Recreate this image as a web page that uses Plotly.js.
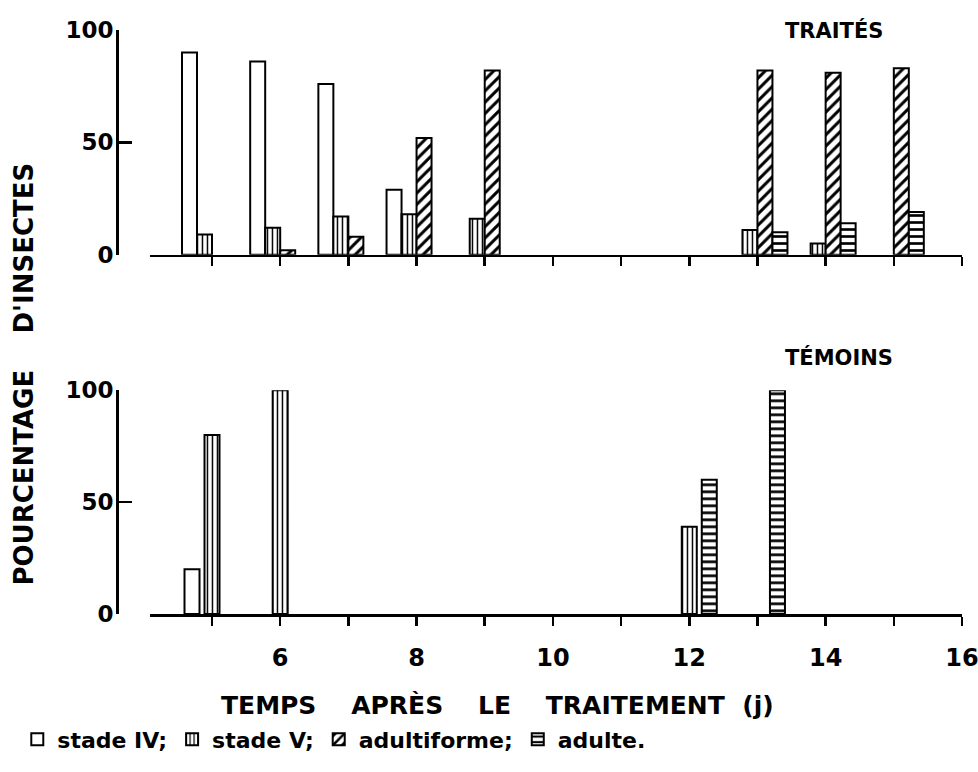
<!DOCTYPE html>
<html><head><meta charset="utf-8">
<script src="https://cdn.plot.ly/plotly-3.0.1.min.js"></script>
<style>html,body{margin:0;padding:0;background:#fff}</style>
</head><body><div id="chart" style="width:978px;height:772px"></div>
<script>
// ---- data ----
const seriesNames = ["stade IV;", "stade V;", "adultiforme;", "adulte."];

const traitesDays = [5, 6, 7, 8, 9, 13, 14, 15];
const traitesStadeIV = [90, 86, 76, 29, 0, 0, 0, 0];
const traitesStadeV = [9, 12, 17, 18, 16, 11, 5, 0];
const traitesAdultiforme = [0, 2, 8, 52, 82, 82, 81, 83];
const traitesAdulte = [0, 0, 0, 0, 0, 10, 14, 19];

const temoinsDays = [5, 6, 12, 13];
const temoinsStadeIV = [20, 0, 0, 0];
const temoinsStadeV = [80, 100, 39, 0];
const temoinsAdulte = [0, 0, 60, 100];

const tickDays = [5, 6, 7, 8, 9, 10, 11, 12, 13, 14, 15, 16];
const tickDayLabels = ["", "6", "", "8", "", "10", "", "12", "", "14", "", "16"];
const yTickVals = [0, 50, 100];
const yTickLabels = ["0", "50", "100"];

// ---- styles ----
const FONT = "DejaVu Sans";
const patterns = [
  {shape: "", fgcolor: "#000", bgcolor: "#fff"},
  {shape: "|", size: 5, solidity: 0.3, fgcolor: "#000", bgcolor: "#fff"},
  {shape: "/", size: 8, solidity: 0.38, fgcolor: "#000", bgcolor: "#fff"},
  {shape: "-", size: 7, solidity: 0.38, fgcolor: "#000", bgcolor: "#fff"}
];
// a 0 % value is simply not drawn (no empty box on the baseline)
const hideZero = arr => arr.map(v => (v === 0 ? null : v));
function bar(x, y, idx, xa, ya, showleg) {
  return {
    type: "bar", x: x, y: hideZero(y), name: seriesNames[idx],
    xaxis: xa, yaxis: ya, showlegend: showleg, legendgroup: "g" + idx,
    marker: {color: "#fff", line: {color: "#000", width: 2}, pattern: patterns[idx]},
    hoverinfo: "x+y"
  };
}
const BW = 0.22;
const data = [
  bar(traitesDays, traitesStadeIV, 0, "x2", "y2", true),
  bar(traitesDays, traitesStadeV, 1, "x2", "y2", true),
  bar(traitesDays, traitesAdultiforme, 2, "x2", "y2", true),
  bar(traitesDays, traitesAdulte, 3, "x2", "y2", true),
  Object.assign(bar(temoinsDays, temoinsStadeIV, 0, "x", "y", false), {width: BW}),
  Object.assign(bar(temoinsDays, temoinsStadeV, 1, "x", "y", false), {width: BW}),
  Object.assign(bar(temoinsDays, temoinsAdulte, 3, "x", "y", false), {width: BW})
];

const xBase = {
  domain: [0.039, 1], range: [4.09, 16], tickmode: "array", tickvals: tickDays, ticktext: tickDayLabels,
  ticks: "outside", ticklen: 9, tickwidth: 2.5, tickcolor: "#000",
  showline: true, linewidth: 2.5, linecolor: "#000", showgrid: false, zeroline: false,
  ticklabeloverflow: "allow",
  tickfont: {family: FONT, size: 24, weight: "bold", color: "#000"}, fixedrange: true
};
const yBase = {
  range: [0, 100], tickmode: "array", tickvals: yTickVals, ticktext: yTickLabels,
  ticks: "inside", ticklen: 13, tickwidth: 2.5, tickcolor: "#000",
  showline: true, linewidth: 2.5, linecolor: "#000", showgrid: false, zeroline: false,
  anchor: "free", position: 0, ticklabelstandoff: -2,
  tickfont: {family: FONT, size: 23, weight: "bold", color: "#000"}, fixedrange: true
};
const sp = "\u00A0\u00A0\u00A0\u00A0";
const layout = {
  width: 978, height: 772,
  margin: {l: 117, r: 16, t: 30, b: 152},
  paper_bgcolor: "#fff", plot_bgcolor: "#fff",
  barmode: "group", bargap: 0.12, bargroupgap: 0,
  font: {family: FONT, color: "#000"},
  xaxis: Object.assign({}, xBase, {anchor: "y", ticklabelstandoff: 12}),
  xaxis2: Object.assign({}, xBase, {anchor: "y2", showticklabels: false}),
  yaxis: Object.assign({}, yBase, {domain: [0, 0.383]}),
  yaxis2: Object.assign({}, yBase, {domain: [0.615, 1]}),
  showlegend: true,
  legend: {
    orientation: "h", x: -0.118, xanchor: "left", y: -0.215, yanchor: "middle",
    font: {family: FONT, size: 22, weight: "bold", color: "#000"},
    bgcolor: "rgba(0,0,0,0)", traceorder: "normal"
  },
  annotations: [
    {text: "TEMPS" + sp + "APRÈS" + sp + "LE" + sp + "TRAITEMENT" + "\u00A0\u00A0" + "(j)",
     xref: "paper", yref: "paper", x: 0.45, y: -0.156, xanchor: "center", yanchor: "middle",
     showarrow: false, font: {family: FONT, size: 25, weight: "bold", color: "#000"}},
    {text: "POURCENTAGE" + sp + "D'INSECTES",
     xref: "paper", yref: "paper", x: -0.110, y: 0.41, xanchor: "center", yanchor: "middle",
     textangle: -90, showarrow: false, font: {family: FONT, size: 26, weight: "bold", color: "#000"}},
    {text: "TRAITÉS", xref: "paper", yref: "paper", x: 0.788, y: 1.0, xanchor: "left", yanchor: "middle",
     showarrow: false, font: {family: FONT, size: 21, weight: "bold", color: "#000"}},
    {text: "TÉMOINS", xref: "paper", yref: "paper", x: 0.788, y: 0.439, xanchor: "left", yanchor: "middle",
     showarrow: false, font: {family: FONT, size: 21, weight: "bold", color: "#000"}}
  ]
};
Plotly.newPlot("chart", data, layout, {displayModeBar: false, staticPlot: true});
</script>
</body></html>
